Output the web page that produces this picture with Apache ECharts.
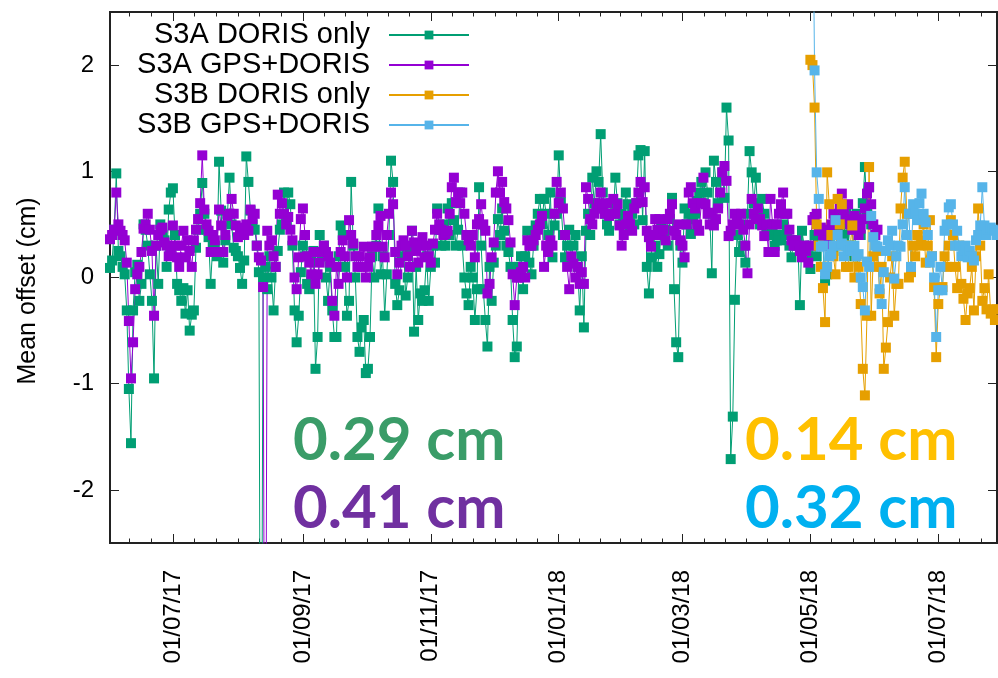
<!DOCTYPE html>
<html>
<head>
<meta charset="utf-8">
<script src="https://cdn.jsdelivr.net/npm/echarts@6/dist/echarts.min.js"></script>
<style>
  html, body { margin: 0; padding: 0; background: #fff; }
  #chart { width: 998px; height: 678px; }
</style>
</head>
<body>
<div id="chart"></div>
<script>
// Daily mean offsets (cm) of the Sentinel-3 orbit solutions
const seriesNames = ['S3A DORIS only', 'S3A GPS+DORIS', 'S3B DORIS only', 'S3B GPS+DORIS'];
const seriesColors = ['#009e73', '#9400d3', '#e69f00', '#56b4e9'];

const axisStart = '2017-06-01';
const axisEnd = '2018-07-29';

const s3aStart = '2017-06-01';
const s3aDorisOnly = [
  0.09, 0.16, 0.45, 0.98, 0.25, 0.2, 0.1, 0.03, -0.31, -1.05,
  -1.56, -0.31, 0.05, 0.12, -0.22, -0.06, 0.5, 0.45, 0.3, 0.03,
  -0.22, -0.95, 0.3, -0.06, 0.5, 0.4, 0.35, 0.1, 0.64, 0.8,
  0.84, 0.4, -0.06, -0.12, -0.22, -0.1, -0.34, -0.12, -0.5, -0.35,
  -0.31, 0.28, 0.45, 0.6, 0.89, 0.6, 0.45, 0.38, -0.06, 0.3,
  0.3, 0.2, 1.09, 0.63, 0.14, 0.35, 0.6, 0.94, 0.5, 0.28,
  0.25, 0.2, 0.09, -0.06, 0.16, 1.14, 0.9, 0.63, 0.5, 0.45,
  0.3, 0.05, -6, 0.0, 0.1, -0.11, 0.2, 0.0, -0.31, 0.1,
  0.25, 0.45, 0.5, 0.8, 0.55, 0.8, 0.69, 0.3, -0.31, -0.61,
  -0.36, 0.05, 0.3, 0.2, -0.06, -0.11, 0.15, 0.25, -0.86, -0.56,
  0.4, 0.2, 0.3, 0.0, -0.22, 0.1, -0.31, -0.56, -0.56, 0.2,
  0.49, 0.4, 0.1, -0.36, -0.22, 0.9, 0.3, 0.0, -0.56, -0.7,
  -0.47, -0.4, -0.9, -0.86, -0.56, 0.2, 0.0, 0.3, 0.65, 0.03,
  0.2, -0.36, 0.03, 0.4, 1.1, 0.9, -0.06, -0.26, -0.12, 0.2,
  0.3, -0.17, 0.0, 0.25, 0.44, -0.51, 0.1, -0.4, -0.15, -0.22,
  -0.12, 0.2, -0.22, 0.1, 0.3, 0.14, 0.65, 0.45, 0.3, 0.5,
  0.3, 0.65, 0.4, 0.7, 0.54, 0.3, 0.45, 0.8, 0.3, 0.0,
  -0.15, -0.26, 0.1, 0.0, -0.4, -0.11, 0.85, 0.3, -0.11, -0.4,
  -0.65, 0.1, -0.22, 0.14, 0.3, 0.55, 0.4, 0.65, 0.44, 0.3,
  0.24, 0.1, -0.4, -0.75, -0.65, 0.1, 0.2, -0.11, 0.2, 0.44,
  0.14, 0.03, 0.3, 0.49, 0.6, 0.74, 0.5, 0.74, 0.6, 0.4,
  0.8, 0.19, 0.49, 0.6, 1.15, 0.71, 0.4, 0.19, 0.3, 0.45,
  0.19, 0.3, 0.4, 0.1, -0.31, 0.2, -0.47, 0.44, 0.6, 0.4,
  0.94, 0.7, 1.0, 0.9, 1.35, 0.8, 0.6, 0.5, 0.44, 0.7,
  0.6, 0.94, 0.7, 0.5, 0.6, 0.55, 0.8, 0.69, 0.45, 0.6,
  0.5, 0.7, 1.15, 1.2, 0.54, 1.19, 0.1, -0.15, 0.19, 0.4,
  0.3, 0.1, 0.22, 0.5, 0.4, 0.45, 0.3, 0.55, 0.75, -0.11,
  -0.61, -0.75, 0.3, 0.14, 0.65, 0.5, 0.6, 0.41, 0.55, 0.6,
  0.72, 0.8, 0.9, 0.7, 0.99, 0.8, 0.6, 0.04, 1.1, 0.9,
  0.7, 0.8, 0.99, 0.75, 1.6, 1.29, -1.71, -1.31, -0.21, 0.4,
  0.24, 0.5, 0.3, 0.14, 0.6, 1.19, 0.99, 0.7, 0.94, 0.6,
  0.5, 0.74, 0.6, 0.45, 0.5, 0.4, 0.45, 0.3, 0.35, 0.4,
  0.35, 0.5, 0.4, 0.44, 0.3, 0.19, 0.35, 0.3, 0.35, -0.26,
  0.44, 0.3, 0.25, 0.2, 0.08, 0.3, 0.4, 0.2, 0.35, 0.45,
  0.3, -0.03, 0.03, 0.3, 0.4, 0.25, 0.55, 0.45, 0.6, 0.5,
  0.4, 0.6, 0.3, 0.5, 0.45, 0.2, 0.6, 0.5, 0.4, 0.7,
  1.04, 0.6, 0.85, 0.5
];
const s3aGpsDoris = [
  0.36, 0.4, 0.45, 0.8, 0.5, 0.44, 0.4, 0.35, 0.14, -0.41,
  -0.95, -0.61, -0.11, 0.03, 0.1, 0.24, 0.46, 0.5, 0.6, 0.45,
  0.25, -0.36, 0.3, 0.4, 0.45, 0.47, 0.33, 0.3, 0.2, 0.24,
  0.49, 0.3, 0.19, 0.1, 0.3, 0.44, 0.19, 0.35, 0.25, 0.1,
  0.35, 0.45, 0.55, 0.7, 1.15, 0.64, 0.5, 0.44, 0.24, 0.4,
  0.35, 0.24, 0.64, 0.49, 0.24, 0.4, 0.58, 0.6, 0.74, 0.6,
  0.49, 0.38, 0.4, 0.47, 0.4, 0.5, 0.44, 0.64, 0.55, 0.6,
  0.3, 0.19, 0.16, -0.09, -6, 0.44, 0.3, 0.35, 0.2, 0.1,
  0.78, 0.6, 0.7, 0.6, 0.5, 0.57, 0.45, 0.35, 0.0, -0.11,
  0.19, 0.55, 0.65, 0.4, 0.2, 0.14, 0.03, 0.24, -0.06, 0.03,
  0.14, 0.24, 0.3, 0.24, 0.2, 0.14, -0.22, -0.36, 0.1, -0.06,
  0.24, 0.35, 0.2, 0.0, 0.54, 0.4, 0.32, 0.2, 0.1, 0.2,
  0.1, 0.29, 0.0, 0.1, 0.19, 0.29, 0.29, 0.4, 0.49, 0.58,
  0.29, 0.19, 0.4, 0.6, 0.8, 0.69, 0.24, 0.03, 0.14, 0.3,
  0.35, 0.3, 0.2, 0.1, 0.44, 0.33, 0.25, 0.14, 0.3, 0.38,
  0.19, 0.3, 0.2, 0.14, 0.32, 0.45, 0.6, 0.5, 0.45, 0.4,
  0.41, 0.44, 0.6, 0.85, 0.94, 0.71, 0.8, 0.7, 0.8, 0.6,
  0.4, 0.35, 0.3, 0.4, 0.19, 0.5, 0.55, 0.69, 0.5, 0.44,
  -0.15, -0.06, 0.19, 0.33, 0.8, 1.0, 0.8, 0.9, 0.71, 0.65,
  0.54, 0.33, 0.03, -0.26, 0.0, 0.0, 0.05, 0.1, 0.0, 0.35,
  0.3, 0.3, 0.35, 0.4, 0.45, 0.5, 0.58, 0.1, 0.3, 0.24,
  0.35, 0.3, 0.6, 0.9, 0.7, 0.8, 0.65, 0.4, 0.1, -0.11,
  0.2, 0.13, 0.0, 0.1, -0.06, 0.05, -0.06, 0.85, 0.74, 0.55,
  0.5, 0.6, 0.65, 0.7, 0.8, 0.65, 0.6, 0.7, 0.58, 0.6,
  0.74, 0.6, 0.69, 0.49, 0.3, 0.4, 0.5, 0.58, 0.5, 0.44,
  0.65, 0.7, 0.8, 0.9, 0.71, 0.85, 0.44, 0.38, 0.29, 0.4,
  0.55, 0.45, 0.55, 0.4, 0.45, 0.35, 0.55, 0.6, 0.69, 0.44,
  0.4, 0.5, 0.35, 0.3, 0.19, 0.5, 0.8, 0.85, 0.7, 0.65,
  0.5, 0.44, 0.7, 0.94, 0.69, 0.6, 0.5, 0.61, 0.49, 0.55,
  0.65, 0.8, 0.99, 1.05, 0.91, 0.39, 0.44, 0.5, 0.6, 0.55,
  0.5, 0.6, 0.45, 0.3, 0.04, 0.5, 0.74, 0.6, 0.55, 0.65,
  0.55, 0.49, 0.39, 0.5, 0.24, 0.74, 0.5, 0.24, 0.5, 0.6,
  0.69, 0.8, 0.6, 0.6, 0.45, 0.35, 0.3, 0.35, 0.3, 0.25,
  0.19, 0.3, 0.25, 0.14, 0.3, 0.54, 0.57, 0.6, 0.44, 0.47,
  0.4, 0.35, 0.3, 0.45, 0.5, 0.6, 0.55, 0.5, 0.65, 0.79,
  0.6, 0.55, 0.69, 0.5, 0.45, 0.58, 0.5, 0.4, 0.46, 0.55,
  0.65, 0.79, 0.85, 0.69, 0.5, 0.4, 0.45
];

const s3bDorisStart = '2018-05-01';
const s3bDorisOnly = [
  2.05, 2.0, 1.6, 0.5, 0.3, 0.1, -0.1, -0.42, 0.99, 0.69,
  0.4, 0.2, 0.03, 0.74, 0.5, 0.69, 0.3, 0.1, 0.1, 0.3,
  0.49, 0.0, 0.2, 0.1, -0.25, -0.86, -1.11, -0.36, 1.04, -0.36,
  0.2, 0.1, 0.25, -0.15, 0.1, -0.86, -0.66, -0.42, 0.0, 0.2,
  -0.36, -0.06, -0.06, 0.65, 0.94, 1.09, 0.6, 0.0, 0.05, 0.3,
  0.2, 0.4, 0.3, 0.35, 0.5, 0.14, 0.3, 0.54, 0.2, -0.09,
  -0.75, -0.25, -0.1, -0.09, 0.2, 0.1, 0.3, 0.54, 0.4, 0.1,
  -0.1, 0.3, -0.06, -0.2, -0.4, -0.15, -0.1, 0.1, -0.31, 0.2,
  0.65, 0.3, -0.22, -0.1, -0.3, 0.03, -0.34, -0.3, -0.4, -0.3
];

const s3bGpsStart = '2018-05-02';
const s3bGpsDoris = [
  4.0, 1.95, 0.99, 0.74, 0.29, 0.3, 0.03, 0.1, 0.2,
  0.22, 0.3, 0.54, 0.4, 0.3, 0.32, 0.2, 0.3, 0.25, 0.25,
  0.25, 0.3, 0.2, 0.22, 0.0, -0.09, -0.31, 0.15, 0.1, 0.58,
  0.38, 0.3, 0.29, -0.11, -0.25, 0.05, 0.25, 0.35, 0.3, 0.44,
  -0.01, 0.2, 0.3, 0.29, 0.5, 0.85, 0.4, 0.6, 0.1, 0.69,
  0.6, 0.54, 0.7, 0.79, 0.6, 0.52, 0.4, 0.14, 0.2, 0.0,
  -0.56, -0.12, 0.1, -0.12, 0.44, 0.5, 0.66, 0.69, 0.5, 0.3,
  0.44, 0.3, 0.2, 0.25, 0.3, 0.19, 0.25, 0.2, 0.16, 0.35,
  0.4, 0.49, 0.85, 0.49, 0.4, 0.45, 0.47, 0.45, 0.44, 0.4
];

// Labelled dates on the time axis and offset ticks
const xTickDates = ['2017-07-01', '2017-09-01', '2017-11-01', '2018-01-01', '2018-03-01', '2018-05-01', '2018-07-01'];
const yTicks = [-2, -1, 0, 1, 2];

// RMS of each solution
const rmsTexts = ['0.29 cm', '0.41 cm', '0.14 cm', '0.32 cm'];
const rmsColors = ['#3a9c68', '#7030a0', '#ffc000', '#00b0f0'];

// ---- helpers ----
const DAY = 86400000;
function utc(s) { const p = s.split('-').map(Number); return Date.UTC(p[0], p[1] - 1, p[2]); }
const origin = utc(axisStart);
function dayOf(s) { return (utc(s) - origin) / DAY; }
function pad(n) { return (n < 10 ? '0' : '') + n; }
function fmtDay(v) {
  const d = new Date(origin + Math.round(v) * DAY);
  return pad(d.getUTCDate()) + '/' + pad(d.getUTCMonth() + 1) + '/' + pad(d.getUTCFullYear() % 100);
}
function toPoints(start, values) {
  const s = dayOf(start);
  return values.map((v, i) => [s + i, v]);
}

const xMax = dayOf(axisEnd);
const majorDays = xTickDates.map(dayOf);
const minorDays = [];
{
  const first = (majorDays[1] - majorDays[0]) / 6;
  for (let t = majorDays[0] - first; t > 0; t -= first) minorDays.push(t);
  for (let k = 0; k < majorDays.length - 1; k++) {
    const a = majorDays[k], b = majorDays[k + 1];
    for (let s = 1; s < 6; s++) minorDays.push(a + (b - a) * s / 6);
  }
  const n = majorDays.length;
  const last = (majorDays[n - 1] - majorDays[n - 2]) / 6;
  for (let t = majorDays[n - 1] + last; t < xMax; t += last) minorDays.push(t);
}

const FONT = 'Liberation Sans, Arial, sans-serif';
const INK = '#222';

function xAxisDef(position, ticks, len, labels) {
  return {
    type: 'value', min: 0, max: xMax, position: position,
    axisLine: { show: true, onZero: false, lineStyle: { color: INK, width: 2 } },
    axisTick: { show: true, inside: true, length: len, customValues: ticks, lineStyle: { color: INK, width: 1 } },
    axisLabel: labels ? {
      show: true, customValues: ticks, rotate: 90, margin: 27,
      fontSize: 24, fontFamily: FONT, color: '#000', formatter: fmtDay
    } : { show: false },
    splitLine: { show: false }
  };
}
function yAxisDef(position, labels) {
  return {
    type: 'value', min: -2.5, max: 2.5, position: position,
    axisLine: { show: true, onZero: false, lineStyle: { color: INK, width: 2 } },
    axisTick: { show: true, inside: true, length: 9, customValues: yTicks, lineStyle: { color: INK, width: 1 } },
    axisLabel: labels ? {
      show: true, customValues: yTicks, margin: 16,
      fontSize: 24, fontFamily: FONT, color: '#000'
    } : { show: false },
    splitLine: { show: false }
  };
}

const seriesData = [
  toPoints(s3aStart, s3aDorisOnly),
  toPoints(s3aStart, s3aGpsDoris),
  toPoints(s3bDorisStart, s3bDorisOnly),
  toPoints(s3bGpsStart, s3bGpsDoris)
];

const BIG = 'bold 60px Lato';

const chart = echarts.init(document.getElementById('chart'), null, { renderer: 'canvas' });
chart.setOption({
  animation: false,
  backgroundColor: '#fff',
  grid: { left: 110, right: 1, top: 12, bottom: 135, outerBoundsMode: 'none' },
  xAxis: [
    xAxisDef('bottom', majorDays, 9, true),
    xAxisDef('top', majorDays, 9, false),
    xAxisDef('bottom', minorDays, 4.5, false),
    xAxisDef('top', minorDays, 4.5, false)
  ],
  yAxis: [yAxisDef('left', true), yAxisDef('right', false)],
  legend: {
    orient: 'vertical', right: 528, top: 20, align: 'right', padding: 0, itemGap: 0,
    itemWidth: 80, itemHeight: 11,
    textStyle: { fontSize: 29, fontFamily: FONT, color: '#000', lineHeight: 30, padding: [0, 14, 0, 0] },
    data: seriesNames
  },
  series: seriesNames.map((name, k) => ({
    name: name, type: 'line', xAxisIndex: 0, yAxisIndex: 0,
    data: seriesData[k], symbol: 'rect', symbolSize: 10, showSymbol: true,
    clip: true,
    lineStyle: { width: 1, color: seriesColors[k] },
    itemStyle: { color: seriesColors[k] },
    emphasis: { disabled: true }
  })),
  graphic: [
    { type: 'text', x: 28, y: 291, rotation: Math.PI / 2,
      style: { text: 'Mean offset (cm)', font: '25px ' + FONT, fill: '#000', textAlign: 'center', textVerticalAlign: 'middle' } },
    { type: 'text', x: 293, y: 441, style: { text: rmsTexts[0], font: BIG, fill: rmsColors[0], textAlign: 'left', textVerticalAlign: 'middle' } },
    { type: 'text', x: 293, y: 509, style: { text: rmsTexts[1], font: BIG, fill: rmsColors[1], textAlign: 'left', textVerticalAlign: 'middle' } },
    { type: 'text', x: 745, y: 441, style: { text: rmsTexts[2], font: BIG, fill: rmsColors[2], textAlign: 'left', textVerticalAlign: 'middle' } },
    { type: 'text', x: 745, y: 509, style: { text: rmsTexts[3], font: BIG, fill: rmsColors[3], textAlign: 'left', textVerticalAlign: 'middle' } }
  ]
});
</script>
</body>
</html>
